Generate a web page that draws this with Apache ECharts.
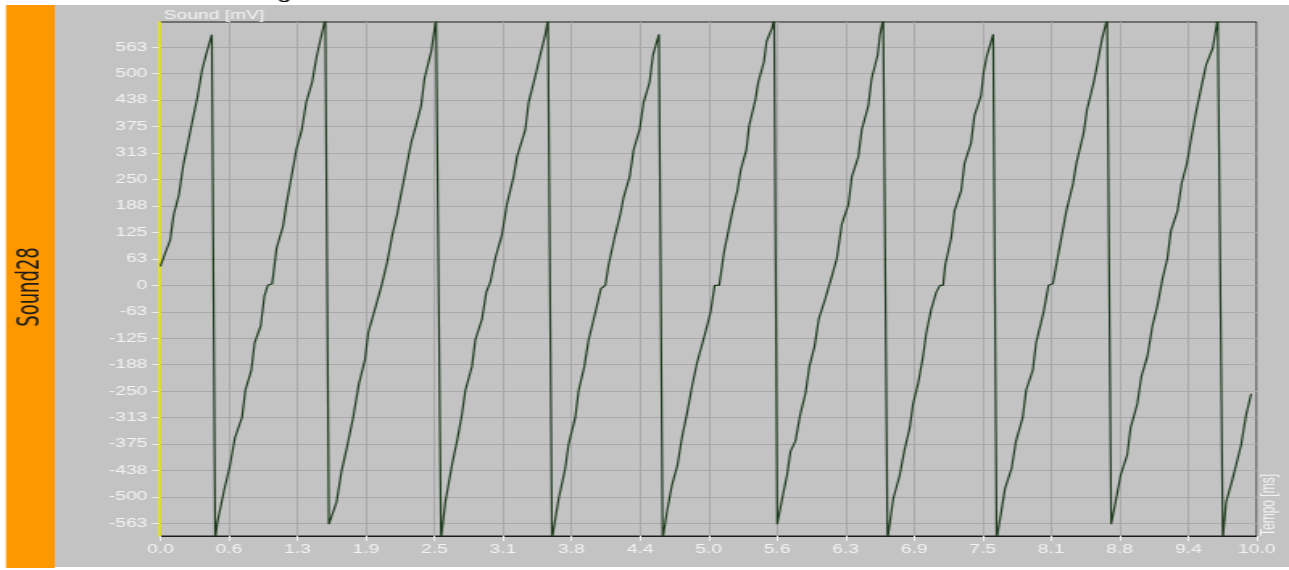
<!DOCTYPE html>
<html>
<head>
<meta charset="utf-8">
<script src="https://cdn.jsdelivr.net/npm/echarts@6/dist/echarts.min.js"></script>
<style>
html,body{margin:0;padding:0;background:#ffffff;overflow:hidden;}
#wrap{width:1289px;height:570px;overflow:hidden;position:relative;}
#chart{width:800px;height:570px;transform:scaleX(1.61125);transform-origin:0 0;}
</style>
</head>
<body>
<div id="wrap"><div id="chart"></div></div>
<script>
// ---- data (time in ms, sound in mV) ----
const ramp01 = [[0.00,45],[0.05,80],[0.09,107],[0.12,165],[0.17,215],[0.21,285],[0.25,335],[0.30,398],[0.34,446],[0.38,508],[0.42,548],[0.47,592]];
const ramp02 = [[0.50,-600],[0.52,-560],[0.585,-480],[0.63,-432],[0.68,-360],[0.745,-312],[0.775,-248],[0.83,-200],[0.86,-136],[0.915,-96],[0.95,-24],[0.98,0],[1.02,4],[1.06,88],[1.12,140],[1.15,192],[1.195,256],[1.24,320],[1.29,368],[1.33,432],[1.385,480],[1.425,540],[1.46,580],[1.505,630]];
const ramp03 = [[1.537,-564],[1.607,-512],[1.652,-440],[1.707,-376],[1.759,-312],[1.811,-232],[1.866,-176],[1.896,-112],[1.957,-56],[2.018,0],[2.07,56],[2.116,120],[2.16,168],[2.195,216],[2.226,256],[2.287,336],[2.33,376],[2.378,424],[2.409,488],[2.47,552],[2.515,630]];
const ramp04 = [[2.56,-600],[2.599,-512],[2.66,-424],[2.706,-368],[2.751,-304],[2.782,-248],[2.842,-192],[2.873,-128],[2.934,-80],[2.973,-16],[3.01,8],[3.055,64],[3.116,120],[3.161,192],[3.222,256],[3.253,304],[3.329,368],[3.359,432],[3.429,504],[3.465,544],[3.511,592],[3.535,630]];
const ramp05 = [[3.572,-600],[3.633,-504],[3.693,-432],[3.723,-376],[3.784,-312],[3.815,-248],[3.867,-192],[3.906,-128],[3.952,-80],[3.982,-48],[4.018,-8],[4.058,0],[4.088,48],[4.149,120],[4.195,168],[4.225,208],[4.28,256],[4.316,320],[4.371,368],[4.408,432],[4.462,480],[4.493,544],[4.547,593]];
const ramp06 = [[4.581,-600],[4.62,-536],[4.666,-472],[4.717,-424],[4.757,-360],[4.802,-304],[4.848,-240],[4.894,-184],[4.966,-116],[5.018,-64],[5.056,0],[5.097,0],[5.142,80],[5.181,128],[5.218,176],[5.263,224],[5.293,272],[5.345,320],[5.369,376],[5.429,440],[5.453,480],[5.505,528],[5.529,576],[5.58,608],[5.598,630]];
const ramp07 = [[5.626,-564],[5.665,-512],[5.716,-448],[5.747,-392],[5.792,-368],[5.837,-304],[5.883,-256],[5.919,-192],[5.967,-144],[6.004,-80],[6.064,-32],[6.118,16],[6.17,64],[6.215,144],[6.276,192],[6.306,256],[6.366,304],[6.397,368],[6.457,424],[6.487,488],[6.542,544],[6.563,592],[6.593,630]];
const ramp08 = [[6.632,-600],[6.684,-504],[6.744,-448],[6.784,-392],[6.835,-336],[6.865,-280],[6.911,-232],[6.956,-168],[6.986,-112],[7.031,-56],[7.077,-16],[7.11,0],[7.14,0],[7.158,48],[7.213,112],[7.243,176],[7.304,224],[7.334,288],[7.394,336],[7.424,400],[7.485,448],[7.509,504],[7.54,544],[7.596,593]];
const ramp09 = [[7.627,-600],[7.664,-544],[7.703,-480],[7.764,-432],[7.804,-368],[7.865,-312],[7.896,-248],[7.957,-200],[7.987,-136],[8.055,-64],[8.1,0],[8.14,4],[8.183,64],[8.223,120],[8.263,176],[8.324,240],[8.354,288],[8.421,360],[8.452,416],[8.513,480],[8.544,520],[8.59,584],[8.635,630]];
const ramp10 = [[8.672,-564],[8.712,-512],[8.758,-448],[8.819,-400],[8.849,-336],[8.91,-280],[8.947,-216],[9.002,-168],[9.048,-96],[9.094,-48],[9.14,16],[9.185,64],[9.216,128],[9.277,176],[9.314,240],[9.363,288],[9.399,344],[9.445,408],[9.491,464],[9.537,520],[9.598,560],[9.644,630]];
const ramp11 = [[9.69,-600],[9.72,-512],[9.772,-464],[9.827,-408],[9.858,-376],[9.904,-304],[9.949,-256]];

const yTickValues = [-562.5,-500,-437.5,-375,-312.5,-250,-187.5,-125,-62.5,0,62.5,125,187.5,250,312.5,375,437.5,500,562.5];
const yMin = -592, yMax = 622;
const xMin = 0, xMax = 10, xStep = 0.625;

const channelName = 'Sound28';
const yAxisName = 'Sound [mV]';
const xAxisName = 'Tempo [ms]';
const clippedTitle = 'g';

const waveform = [].concat(ramp01, ramp02, ramp03, ramp04, ramp05, ramp06, ramp07, ramp08, ramp09, ramp10, ramp11);

const labelColor = '#f3f3f3';
const gridColor = '#a9a9a9';
const fontFam = '"Liberation Sans", Arial, sans-serif';

const chart = echarts.init(document.getElementById('chart'), null, {renderer:'canvas', width:800, height:570});

chart.setOption({
  animation: false,
  backgroundColor: 'transparent',
  graphic: [
    {type:'rect', z:-10, silent:true, shape:{x:34, y:5, width:766, height:562}, style:{fill:'#c3c3c3'}},
    {type:'rect', z:-10, silent:true, shape:{x:3.7, y:5, width:30.3, height:563}, style:{fill:'#ff9800'}},
    {type:'text', z:10, silent:true, x:19, y:287, rotation:Math.PI/2,
      style:{text:channelName, font:'20px "Liberation Sans Narrow", "DejaVu Sans Condensed", sans-serif', fill:'#1a1a1a', align:'center', verticalAlign:'middle', textAlign:'center', textVerticalAlign:'middle'}},
    {type:'text', z:10, silent:true, x:172, y:3,
      style:{text:clippedTitle, font:'16px "Liberation Sans", Arial, sans-serif', fill:'#000000', align:'left', verticalAlign:'bottom', textAlign:'left', textVerticalAlign:'bottom'}}
  ],
  grid: {
    left: 99.5, right: 20, top: 22, bottom: 34,
    show: true, borderColor: '#1c1c1c', borderWidth: 1, backgroundColor: 'transparent',
    containLabel: false, outerBoundsMode: 'none'
  },
  xAxis: {
    type: 'value', min: xMin, max: xMax, interval: xStep,
    name: xAxisName, nameLocation: 'end', nameRotate: 90, nameGap: 8,
    nameTextStyle: {color: labelColor, fontSize: 12, fontFamily: fontFam, align: 'left', verticalAlign: 'middle'},
    axisLine: {show: true, onZero: false, lineStyle: {color: '#1c1c1c', width: 1}},
    axisTick: {show: true, length: 5, lineStyle: {color: '#f0f0f0', width: 1}},
    axisLabel: {color: labelColor, fontSize: 12, fontFamily: fontFam, margin: 8, showMinLabel: true, showMaxLabel: true,
      formatter: v => v.toFixed(1)},
    splitLine: {show: true, lineStyle: {color: gridColor, width: 1}}
  },
  yAxis: {
    type: 'value', min: yMin, max: yMax, offset: 1,
    name: yAxisName, nameLocation: 'end', nameGap: 6,
    nameTextStyle: {color: labelColor, fontSize: 12, fontFamily: fontFam, align: 'left', verticalAlign: 'middle', padding: [0,0,0,3]},
    axisLine: {show: true, onZero: false, lineStyle: {color: '#f0ee00', width: 1.5}},
    axisTick: {show: true, length: 4, customValues: yTickValues, lineStyle: {color: '#f0f0f0', width: 1}},
    axisLabel: {color: labelColor, fontSize: 12, fontFamily: fontFam, margin: 7, customValues: yTickValues,
      formatter: v => (v < 0 ? '-' : '') + Math.round(Math.abs(v))},
    splitLine: {show: true, lineStyle: {color: gridColor, width: 1}}
  },
  series: [{
    name: yAxisName,
    type: 'line',
    data: waveform,
    symbol: 'none',
    showSymbol: false,
    clip: true,
    z: 3,
    lineStyle: {color: '#1e3b1e', width: 1.2}
  }]
});
</script>
</body>
</html>
